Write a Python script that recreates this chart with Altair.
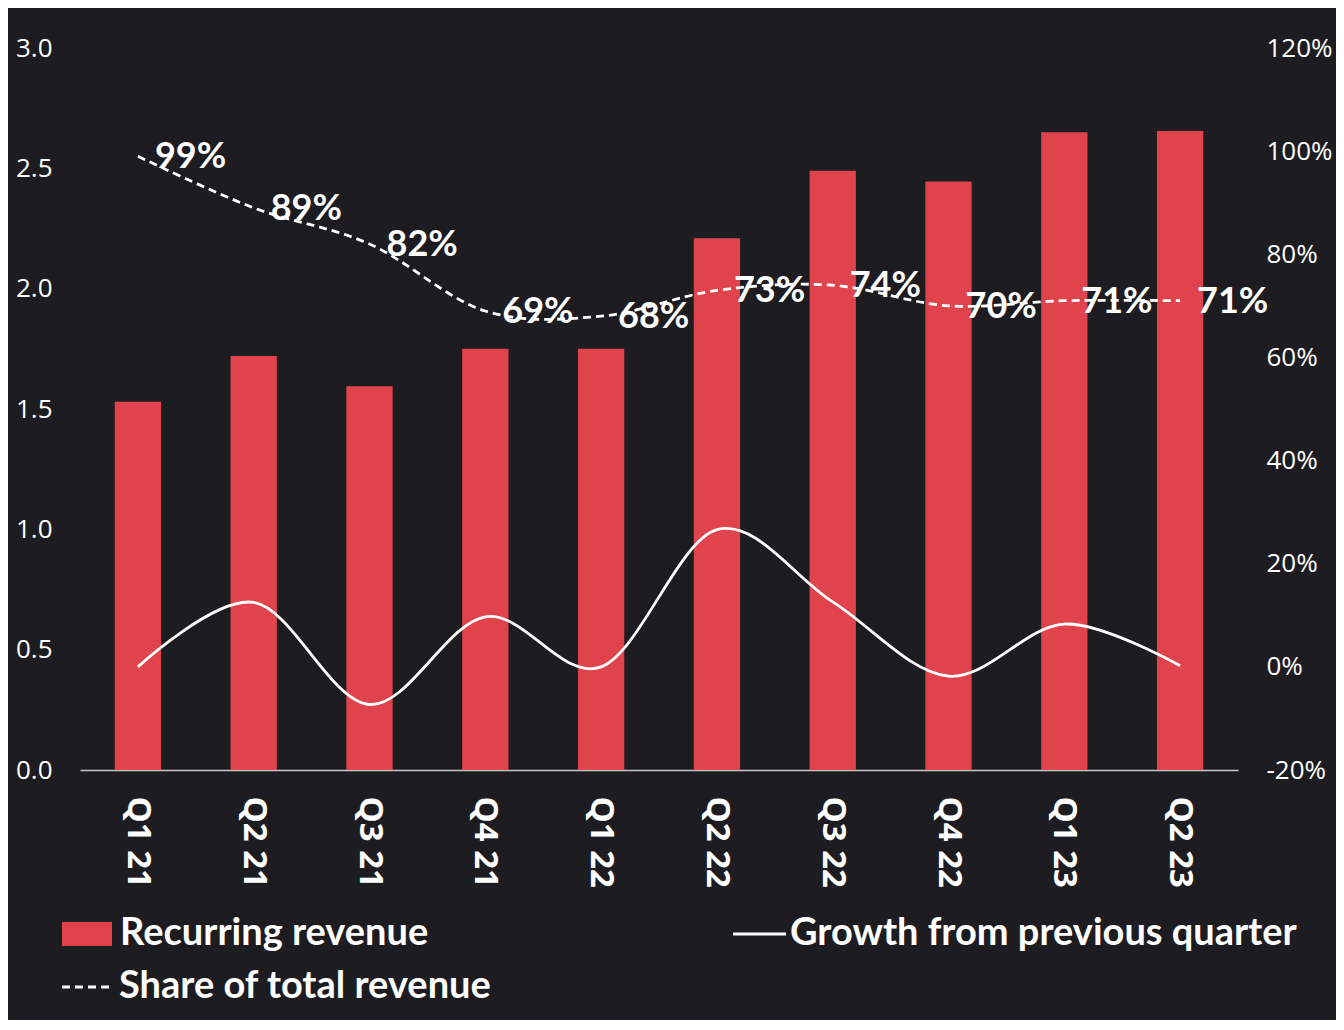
import altair as alt
import pandas as pd

quarters = ["Q1 21", "Q2 21", "Q3 21", "Q4 21", "Q1 22", "Q2 22", "Q3 22", "Q4 22", "Q1 23", "Q2 23"]
recurring = [1.53, 1.72, 1.595, 1.75, 1.75, 2.21, 2.49, 2.445, 2.65, 2.655]
growth = [0.0, 12.5, -7.3, 9.7, 0.0, 26.6, 12.6, -1.8, 8.3, 0.2]
share = [99, 89, 82, 69, 68, 73, 74, 70, 71, 71]
share_labels = ["99%", "89%", "82%", "69%", "68%", "73%", "74%", "70%", "71%", "71%"]

left_ticks = [0.0, 0.5, 1.0, 1.5, 2.0, 2.5, 3.0]
right_ticks = [-20, 0, 20, 40, 60, 80, 100, 120]

legend_bar = ["Recurring revenue"]
legend_growth = ["Growth from previous quarter"]
legend_share = ["Share of total revenue"]

BG = "#1c1c21"
RED = "#e0434b"
WHITE = "#ffffff"
AXIS_FONT = "Open Sans"
LABEL_FONT = "Lato"

df = pd.DataFrame({
    "quarter": quarters,
    "recurring": recurring,
    "growth": growth,
    "share": share,
    "label": share_labels,
})

xenc = alt.X(
    "quarter:N",
    sort=quarters,
    scale=alt.Scale(paddingInner=0.6, paddingOuter=0.3),
    axis=alt.Axis(
        title=None, labelAngle=90, labelFontSize=33, labelFontWeight="bold",
        labelFont=AXIS_FONT, labelColor=WHITE, labelPadding=26, ticks=False,
        domain=True, domainColor="#c8c8c8", domainWidth=1.5,
    ),
)

base = alt.Chart(df)

bars = base.mark_bar(color=RED).encode(
    x=xenc,
    y=alt.Y(
        "recurring:Q",
        scale=alt.Scale(domain=[0, 3], nice=False, zero=True),
        axis=alt.Axis(
            title=None, values=left_ticks, format=".1f", grid=False, ticks=False,
            domain=False, labelFontSize=26, labelFont=AXIS_FONT, labelColor=WHITE,
            labelPadding=28, orient="left",
        ),
    ),
)

rscale = alt.Scale(domain=[-20, 120], nice=False, zero=False)
raxis = alt.Axis(
    title=None, values=right_ticks, labelExpr="datum.value + '%'", grid=False,
    ticks=False, domain=False, labelFontSize=26, labelFont=AXIS_FONT,
    labelColor=WHITE, labelPadding=28, orient="right", labelAlign="left",
)

growth_line = base.mark_line(color=WHITE, strokeWidth=2.8, interpolate="cardinal").encode(
    x=xenc,
    y=alt.Y("growth:Q", scale=rscale, axis=raxis),
)

share_line = base.mark_line(
    color=WHITE, strokeWidth=2.8, strokeDash=[8, 5], interpolate="cardinal"
).encode(
    x=xenc,
    y=alt.Y("share:Q", scale=rscale, axis=raxis),
)

share_text = base.mark_text(
    align="left", baseline="middle", dx=17, dy=1, fontSize=36, fontWeight="bold",
    font=LABEL_FONT, color=WHITE,
).encode(
    x=xenc,
    y=alt.Y("share:Q", scale=rscale, axis=raxis),
    text="label:N",
)

lines = alt.layer(growth_line, share_line, share_text)

# custom legend (positions relative to plot origin)
LEG_FS = 38
leg1_sym = alt.Chart(pd.DataFrame({"t": legend_bar})).mark_rect(color=RED).encode(
    x=alt.value(-18), x2=alt.value(32), y=alt.value(874), y2=alt.value(898)
)
leg1_txt = alt.Chart(pd.DataFrame({"t": legend_bar})).mark_text(
    align="left", baseline="middle", fontSize=LEG_FS, fontWeight="bold", font=LABEL_FONT, color=WHITE
).encode(x=alt.value(40), y=alt.value(886), text="t:N")

leg2_sym = alt.Chart(pd.DataFrame({"t": legend_growth})).mark_rule(color=WHITE, strokeWidth=2.8).encode(
    x=alt.value(653), x2=alt.value(706), y=alt.value(886)
)
leg2_txt = alt.Chart(pd.DataFrame({"t": legend_growth})).mark_text(
    align="left", baseline="middle", fontSize=LEG_FS, fontWeight="bold", font=LABEL_FONT, color=WHITE
).encode(x=alt.value(710), y=alt.value(886), text="t:N")

leg3_sym = alt.Chart(pd.DataFrame({"t": legend_share})).mark_rule(
    color=WHITE, strokeWidth=2.8, strokeDash=[8, 5]
).encode(x=alt.value(-18), x2=alt.value(33), y=alt.value(939))
leg3_txt = alt.Chart(pd.DataFrame({"t": legend_share})).mark_text(
    align="left", baseline="middle", fontSize=LEG_FS, fontWeight="bold", font=LABEL_FONT, color=WHITE
).encode(x=alt.value(39), y=alt.value(939), text="t:N")

chart = alt.layer(
    bars, lines, leg1_sym, leg1_txt, leg2_sym, leg2_txt, leg3_sym, leg3_txt
).resolve_scale(y="independent").properties(
    width=1158,
    height=722,
    padding={"left": 72, "top": 40, "right": 98, "bottom": 250},
    autosize=alt.AutoSizeParams(type="none"),
    background=BG,
).configure_view(stroke=None)

chart.save("out.html", embed_options={"renderer": "svg", "actions": False})
